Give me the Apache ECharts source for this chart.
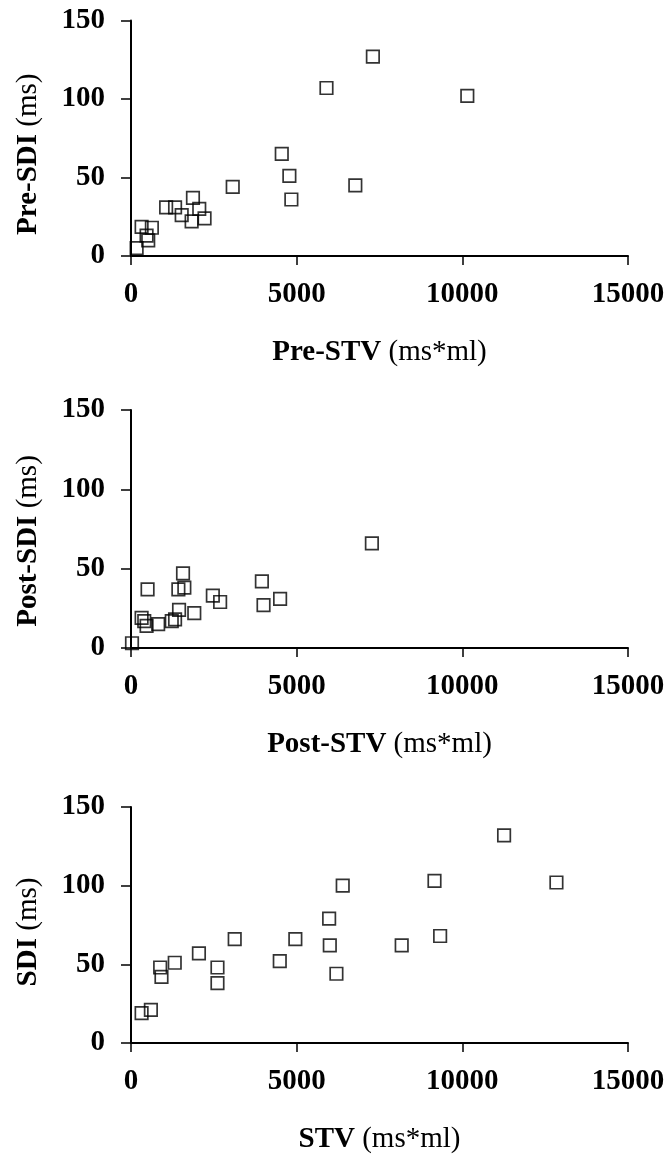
<!DOCTYPE html>
<html>
<head>
<meta charset="utf-8">
<script src="https://cdn.jsdelivr.net/npm/echarts@6/dist/echarts.min.js"></script>
<style>
html,body{margin:0;padding:0;background:#fff;}
#chart{width:670px;height:1156px;}
</style>
</head>
<body>
<div id="chart"></div>
<script>
// Panel 1: Pre-STV (ms*ml) vs Pre-SDI (ms)
const preSTV = [7300, 5900, 10150, 4550, 4780, 4840, 6770, 3070, 1870, 1060, 1330, 1530, 1830, 2060, 2220, 320, 630, 470, 520, 170];
const preSDI = [127, 107, 102, 65, 51, 36, 45, 44, 37, 31, 31, 26, 22, 30, 24, 18.5, 18, 13, 10, 5];

// Panel 2: Post-STV vs Post-SDI
const postSTV = [7270, 3950, 4000, 4500, 1570, 1610, 1430, 500, 2470, 2690, 1450, 1910, 1230, 1330, 820, 320, 400, 470, 30];
const postSDI = [66, 42, 27, 31, 47, 38, 37, 37, 33, 29, 24, 22, 17, 18, 15, 19, 17, 14, 3];

// Panel 3: STV vs SDI
const allSTV = [11260, 9160, 12840, 6390, 5980, 6000, 6200, 8170, 9330, 4960, 4490, 3130, 2050, 2610, 2610, 1320, 880, 920, 600, 320];
const allSDI = [132, 103, 102, 100, 79, 62, 44, 62, 68, 66, 52, 66, 57, 48, 38, 51, 48, 42, 21, 19];

const xTicks = [0, 5000, 10000, 15000];
const yTicks = [0, 50, 100, 150];

const panels = [
  {xb: 'Pre-STV', yb: 'Pre-SDI', x: preSTV, y: preSDI},
  {xb: 'Post-STV', yb: 'Post-SDI', x: postSTV, y: postSDI},
  {xb: 'STV', yb: 'SDI', x: allSTV, y: allSDI}
];
const xUnit = '(ms*ml)';
const yUnit = '(ms)';

const gridTops = [20.5, 410, 807];
const gridHeights = [235.5, 238, 236];
const yNameShift = [32, 24, 14];

const FONT = '"Liberation Serif", "Times New Roman", serif';
const FS = 29;
const rich = {
  b: {fontFamily: FONT, fontWeight: 'bold', fontSize: FS, color: '#000'},
  n: {fontFamily: FONT, fontWeight: 'normal', fontSize: FS, color: '#000'}
};

const grid = [], xAxis = [], yAxis = [], series = [];
panels.forEach((p, i) => {
  grid.push({left: 131, width: 497, top: gridTops[i], height: gridHeights[i], containLabel: false});
  xAxis.push({
    type: 'value', gridIndex: i,
    min: xTicks[0], max: xTicks[xTicks.length - 1], interval: xTicks[1] - xTicks[0],
    splitLine: {show: false},
    axisLine: {show: true, onZero: false, lineStyle: {color: '#000', width: 2}},
    axisTick: {show: true, inside: false, length: 9, lineStyle: {color: '#000', width: 1.5}},
    axisLabel: {color: '#000', fontFamily: FONT, fontWeight: 'bold', fontSize: FS, margin: 24,
      formatter: v => String(v)},
    name: '{b|' + p.xb + '}{n| ' + xUnit + '}',
    nameLocation: 'middle', nameGap: 82,
    nameTextStyle: {rich: rich}
  });
  yAxis.push({
    type: 'value', gridIndex: i,
    min: yTicks[0], max: yTicks[yTicks.length - 1], interval: yTicks[1] - yTicks[0],
    splitLine: {show: false},
    axisLine: {show: true, onZero: false, lineStyle: {color: '#000', width: 2}},
    axisTick: {show: true, inside: false, length: 10, lineStyle: {color: '#000', width: 1.5}},
    axisLabel: {color: '#000', fontFamily: FONT, fontWeight: 'bold', fontSize: FS, margin: 26,
      formatter: v => String(v)},
    name: '{b|' + p.yb + '}{n| ' + yUnit + '}',
    nameLocation: 'middle', nameGap: 88, nameRotate: 90,
    nameTextStyle: {rich: rich, padding: [0, yNameShift[i], 0, 0]}
  });
  series.push({
    type: 'scatter', xAxisIndex: i, yAxisIndex: i,
    symbol: 'rect', symbolSize: 12.5,
    itemStyle: {color: 'rgba(0,0,0,0)', borderColor: '#000', borderWidth: 1.7},
    data: p.x.map((v, k) => [v, p.y[k]]),
    silent: true, animation: false
  });
});

const chart = echarts.init(document.getElementById('chart'), null, {renderer: 'canvas'});
chart.setOption({
  backgroundColor: '#fff',
  animation: false,
  grid: grid, xAxis: xAxis, yAxis: yAxis, series: series
});
</script>
</body>
</html>
